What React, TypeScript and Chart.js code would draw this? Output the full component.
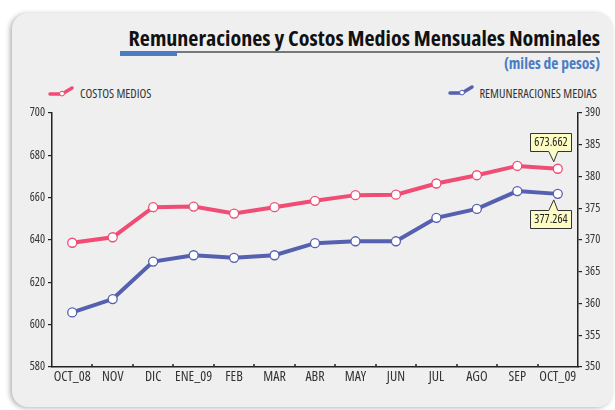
import React, { useEffect, useRef } from "react";
import { Chart, registerables } from "chart.js";

Chart.register(...registerables);

const categories = ["OCT_08", "NOV", "DIC", "ENE_09", "FEB", "MAR", "ABR", "MAY", "JUN", "JUL", "AGO", "SEP", "OCT_09"];
const costosMedios = [638.7, 641.3, 655.5, 655.8, 652.5, 655.5, 658.5, 661.2, 661.4, 666.7, 670.6, 675.0, 673.662];
const remuneracionesMedias = [358.6, 360.7, 366.6, 367.6, 367.2, 367.6, 369.5, 369.8, 369.8, 373.5, 374.9, 377.7, 377.264];
const leftTicks = { min: 580, max: 700, step: 20 };
const rightTicks = { min: 350, max: 390, step: 5 };
const lastCostosLabel = "673.662";
const lastRemunLabel = "377.264";

const FAMILY = '"Open Sans", "Roboto Condensed", sans-serif';
const COND = "normal condensed";
const PINK = "#ef4d74";
const BLUE = "#5560b0";

const calloutPlugin = {
  id: "callouts",
  afterDatasetsDraw(chart: any) {
    const ctx = chart.ctx;
    const draw = (dsIndex: number, text: string, above: boolean) => {
      const meta = chart.getDatasetMeta(dsIndex);
      const pt = meta.data[meta.data.length - 1];
      if (!pt) return;
      const px = pt.x;
      const py = pt.y;
      ctx.save();
      ctx.font = `${COND} 12px ${FAMILY}`;
      const w = Math.round(ctx.measureText(text).width + 8);
      const h = 18;
      const left = Math.round(px - 28) + 0.5;
      const top = Math.round(above ? py - 36 : py + 16) + 0.5;
      const tipX = px - 4;
      const tipY = above ? py - 7 : py + 6;
      ctx.fillStyle = "#fdfcc4";
      ctx.strokeStyle = "#333";
      ctx.lineWidth = 1;
      ctx.beginPath();
      if (above) {
        const by = top + h;
        ctx.moveTo(left, top);
        ctx.lineTo(left + w, top);
        ctx.lineTo(left + w, by);
        ctx.lineTo(tipX + 4, by);
        ctx.lineTo(tipX, tipY);
        ctx.lineTo(tipX - 5, by);
        ctx.lineTo(left, by);
        ctx.closePath();
      } else {
        ctx.moveTo(left, top);
        ctx.lineTo(tipX - 5, top);
        ctx.lineTo(tipX, tipY);
        ctx.lineTo(tipX + 4, top);
        ctx.lineTo(left + w, top);
        ctx.lineTo(left + w, top + h);
        ctx.lineTo(left, top + h);
        ctx.closePath();
      }
      ctx.fill();
      ctx.stroke();
      ctx.fillStyle = "#222";
      ctx.textAlign = "center";
      ctx.textBaseline = "middle";
      ctx.fillText(text, left + w / 2, top + h / 2 + 0.5);
      ctx.restore();
    };
    draw(0, lastCostosLabel, true);
    draw(1, lastRemunLabel, false);
  },
};

const xTicksPlugin = {
  id: "xInnerTicks",
  afterDraw(chart: any) {
    const x = chart.scales.x;
    const ctx = chart.ctx;
    const bottom = chart.chartArea.bottom;
    ctx.save();
    ctx.strokeStyle = "#222";
    ctx.lineWidth = 1.5;
    for (let i = 1; i < categories.length; i++) {
      const p = (x.getPixelForValue(i - 1) + x.getPixelForValue(i)) / 2;
      ctx.beginPath();
      ctx.moveTo(Math.round(p), bottom);
      ctx.lineTo(Math.round(p), bottom - 3);
      ctx.stroke();
    }
    ctx.restore();
  },
};

function LegendIcon({ color }: { color: string }) {
  return (
    <svg width="28" height="14" viewBox="0 0 28 14" style={{ display: "block" }}>
      <path d="M3 10 L15 10 L25 4" stroke={color} strokeWidth="3.5" fill="none" strokeLinecap="round" strokeLinejoin="round" />
      <circle cx="15" cy="9.6" r="2.4" fill="#fff" stroke={color} strokeWidth="1" />
    </svg>
  );
}

const textBase: React.CSSProperties = {
  position: "absolute",
  fontFamily: FAMILY,
  fontStretch: "75%",
  whiteSpace: "nowrap",
};

export default function App() {
  const canvasRef = useRef<HTMLCanvasElement | null>(null);

  useEffect(() => {
    const canvas = canvasRef.current;
    if (!canvas) return;
    const tickFont = { family: FAMILY, size: 12, weight: COND };
    const chart = new Chart(canvas, {
      type: "line",
      data: {
        labels: categories,
        datasets: [
          {
            label: "COSTOS MEDIOS",
            data: costosMedios,
            yAxisID: "y",
            borderColor: PINK,
            backgroundColor: "#ffffff",
            borderWidth: 4,
            pointRadius: 4.5,
            pointBorderWidth: 1.3,
            pointBackgroundColor: "#ffffff",
            pointBorderColor: PINK,
            tension: 0,
          },
          {
            label: "REMUNERACIONES MEDIAS",
            data: remuneracionesMedias,
            yAxisID: "y1",
            borderColor: BLUE,
            backgroundColor: "#ffffff",
            borderWidth: 4,
            pointRadius: 4.5,
            pointBorderWidth: 1.3,
            pointBackgroundColor: "#ffffff",
            pointBorderColor: BLUE,
            tension: 0,
          },
        ],
      },
      options: {
        responsive: false,
        animation: false,
        layout: { padding: { top: 113, left: 0, right: 0, bottom: 0 } },
        plugins: {
          legend: { display: false },
          title: { display: false },
          tooltip: { enabled: false },
        },
        scales: {
          x: {
            type: "category",
            offset: true,
            grid: { display: false, drawTicks: false },
            border: { display: true, color: "#222", width: 1.5 },
            ticks: {
              color: "#333",
              font: { family: FAMILY, size: 14, weight: COND },
              padding: 2,
              maxRotation: 0,
              autoSkip: false,
            },
            afterFit: (s: any) => {
              s.height = 43;
            },
          },
          y: {
            type: "linear",
            position: "left",
            min: leftTicks.min,
            max: leftTicks.max,
            ticks: { stepSize: leftTicks.step, color: "#333", font: tickFont, padding: 3 },
            grid: { display: true, drawOnChartArea: false, drawTicks: true, tickLength: 4, color: "#222", lineWidth: 1.2 },
            border: { display: true, color: "#222", width: 1.5 },
            afterFit: (s: any) => {
              s.width = 52;
            },
          },
          y1: {
            type: "linear",
            position: "right",
            min: rightTicks.min,
            max: rightTicks.max,
            ticks: { stepSize: rightTicks.step, color: "#333", font: tickFont, padding: 3 },
            grid: { display: true, drawOnChartArea: false, drawTicks: true, tickLength: 4, color: "#222", lineWidth: 1.2 },
            border: { display: true, color: "#222", width: 1.5 },
            afterFit: (s: any) => {
              s.width = 37;
            },
          },
        },
      },
      plugins: [calloutPlugin, xTicksPlugin],
    } as any);
    return () => chart.destroy();
  }, []);

  return (
    <div style={{ position: "fixed", left: 0, top: 0, width: 615, height: 410, background: "#fff", overflow: "hidden" }}>
      <div
        style={{
          position: "absolute",
          left: 12,
          top: 13,
          width: 601,
          height: 394,
          borderRadius: 16,
          background: "#efefef",
          boxShadow: "-2px 1px 5px rgba(0,0,0,0.3)",
        }}
      />
      <div style={{ ...textBase, right: 15, top: 24, fontSize: 22, fontWeight: 700, color: "#111", lineHeight: "26px" }}>
        Remuneraciones y Costos Medios Mensuales Nominales
      </div>
      <div style={{ position: "absolute", left: 120, top: 51, width: 480, height: 1.5, background: "#777" }} />
      <div style={{ position: "absolute", left: 120, top: 51, width: 57, height: 5, background: "#4a7cc4" }} />
      <div style={{ ...textBase, right: 15, top: 53, fontSize: 15.5, fontWeight: 700, color: "#4a7cc4", lineHeight: "20px" }}>
        (miles de pesos)
      </div>
      <div style={{ position: "absolute", left: 47, top: 84 }}>
        <LegendIcon color={PINK} />
      </div>
      <div style={{ ...textBase, left: 80, top: 86, fontSize: 12.5, color: "#333", lineHeight: "16px" }}>COSTOS MEDIOS</div>
      <div style={{ position: "absolute", left: 447, top: 83 }}>
        <LegendIcon color={BLUE} />
      </div>
      <div style={{ ...textBase, right: 18, top: 86, fontSize: 12.5, color: "#333", lineHeight: "16px" }}>REMUNERACIONES MEDIAS</div>
      <canvas ref={canvasRef} width={615} height={410} style={{ position: "absolute", left: 0, top: 0, width: 615, height: 410 }} />
    </div>
  );
}
